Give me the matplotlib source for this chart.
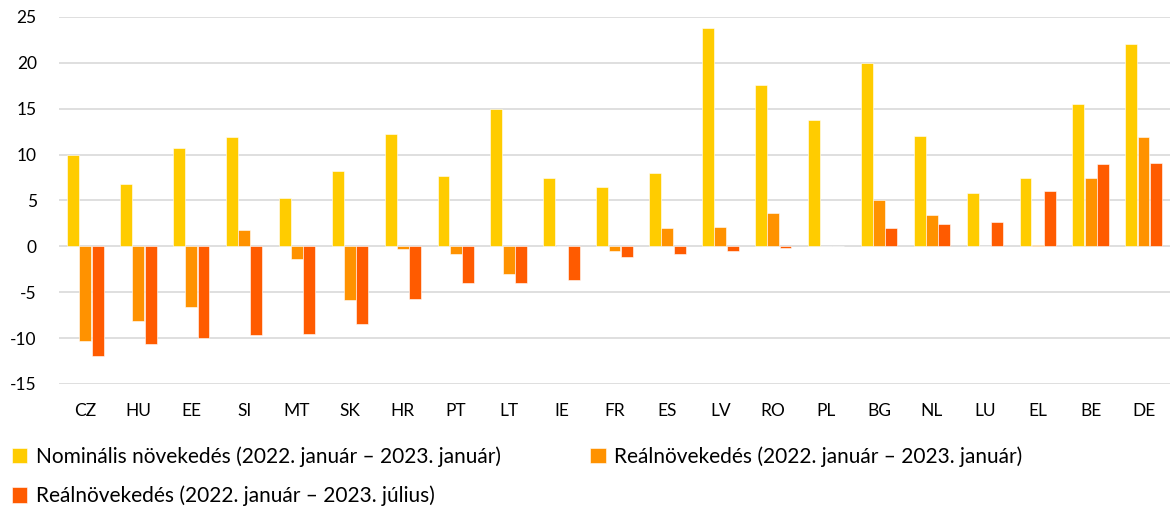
import numpy as np
import matplotlib
matplotlib.use("Agg")
import matplotlib.pyplot as plt

countries = ["CZ", "HU", "EE", "SI", "MT", "SK", "HR", "PT", "LT", "IE", "FR",
             "ES", "LV", "RO", "PL", "BG", "NL", "LU", "EL", "BE", "DE"]
nominal = [10.0, 6.8, 10.7, 11.9, 5.3, 8.2, 12.2, 7.7, 15.0, 7.5, 6.5,
           8.0, 23.8, 17.6, 13.8, 20.0, 12.0, 5.8, 7.5, 15.5, 22.1]
real_jan = [-10.3, -8.1, -6.6, 1.8, -1.35, -5.9, -0.3, -0.8, -3.0, 0.05, -0.5,
            2.0, 2.1, 3.6, 0.05, 5.05, 3.4, 0.05, 0.2, 7.5, 11.9]
real_jul = [-12.0, -10.6, -10.0, -9.7, -9.5, -8.5, -5.75, -4.0, -4.0, -3.7, -1.2,
            -0.8, -0.5, -0.2, 0.05, 2.0, 2.4, 2.7, 6.0, 9.0, 9.1]

labels = ["Nominális növekedés (2022. január – 2023. január)",
          "Reálnövekedés (2022. január – 2023. január)",
          "Reálnövekedés (2022. január – 2023. július)"]
colors = ["#FFCC00", "#FF9200", "#FF5B00"]

plt.rcParams["font.family"] = ["Lato", "DejaVu Sans"]
plt.rcParams["axes.unicode_minus"] = False

fig = plt.figure(figsize=(11.7, 5.13), dpi=100)
ax = fig.add_axes([0.0504, 0.2515, 0.9496, 0.7155])

x = np.arange(len(countries))
w = 0.225
bars = []
for i, (vals, col, lab) in enumerate(zip([nominal, real_jan, real_jul], colors, labels)):
    b = ax.bar(x + (i - 1) * 0.232, vals, width=w, color=col, label=lab,
               edgecolor="white", linewidth=0.4, zorder=3)
    bars.append(b)

ax.set_xlim(-0.5, len(countries) - 0.5)
ax.set_ylim(-15, 25)
ax.set_yticks(range(-15, 26, 5))
ax.set_xticks(x)
ax.set_xticklabels(countries)
ax.grid(axis="y", color="#D9D9D9", linewidth=1.2, zorder=0)
ax.tick_params(axis="both", length=0, labelsize=12.5, colors="black")
ax.tick_params(axis="x", pad=14)
ax.tick_params(axis="y", pad=16)
for s in ax.spines.values():
    s.set_visible(False)

# legend order so the first row holds the two January series
leg = fig.legend([bars[0], bars[2], bars[1]], [labels[0], labels[2], labels[1]],
                 ncol=2, loc="upper left", bbox_to_anchor=(0.01, 0.13),
                 frameon=False, fontsize=15, handlelength=0.75, handleheight=0.75,
                 handletextpad=0.4, columnspacing=4.3, labelspacing=0.9,
                 borderaxespad=0, borderpad=0)

fig.savefig("out.png", dpi=100)
